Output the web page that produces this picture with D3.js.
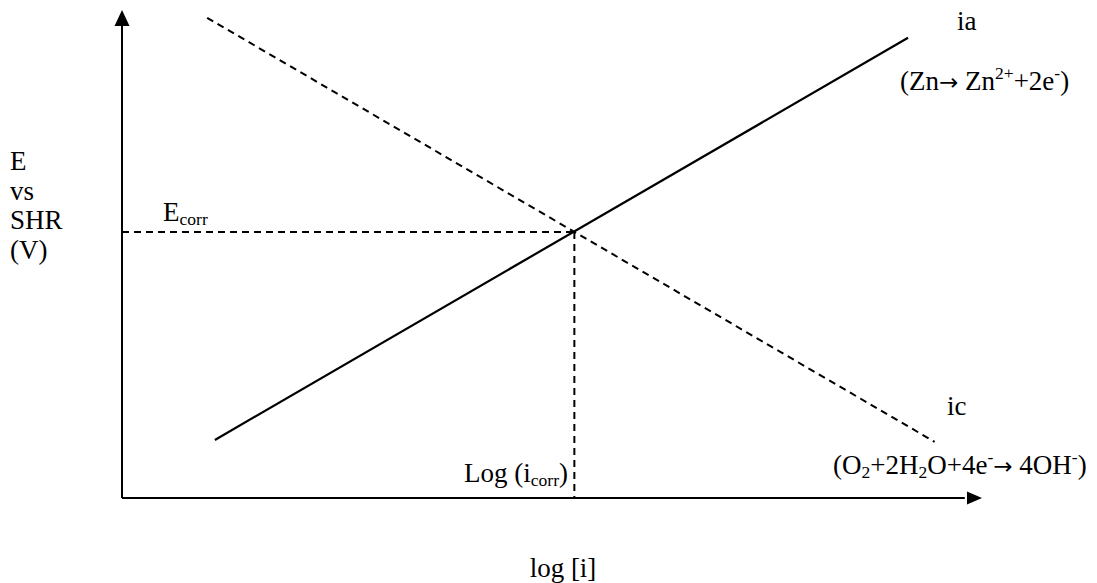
<!DOCTYPE html>
<html><head><meta charset="utf-8">
<script src="https://cdn.jsdelivr.net/npm/d3@7"></script>
<style>body{margin:0;background:#fff}svg{display:block}text{font-family:"Liberation Serif","Times New Roman",serif;fill:#000}</style>
</head><body><svg id="c" width="1097" height="583"></svg>
<script>
// Schematic data (arbitrary units: log i on x, E on y)
const anodicLogI = [10.8, 91.4];
const anodicE = [11.9, 94.3];
const cathodicLogI = [9.9, 94.5];
const cathodicE = [98.4, 11.5];
const logIcorr = 52.6;
const Ecorr = 54.5;

const svg = d3.select("#c");
const x = d3.scaleLinear().domain([0, 100]).range([122, 982]);
const y = d3.scaleLinear().domain([0, 100]).range([498, 10]);

const line = d3.line().x(d => x(d[0])).y(d => y(d[1]));

// axes
svg.append("line").attr("x1", x(0)).attr("y1", y(0)).attr("x2", x(0)).attr("y2", y(97))
  .attr("stroke", "#000").attr("stroke-width", 2);
svg.append("line").attr("x1", x(0)).attr("y1", y(0)).attr("x2", x(98)).attr("y2", y(0))
  .attr("stroke", "#000").attr("stroke-width", 2);
svg.append("path").attr("d", `M${x(0)},${y(100)} L${x(0)-7.5},${y(100)+16} L${x(0)+7.5},${y(100)+16} Z`).attr("fill", "#000");
svg.append("path").attr("d", `M${x(100)},${y(0)} L${x(100)-15},${y(0)-6.5} L${x(100)-15},${y(0)+6.5} Z`).attr("fill", "#000");

// anodic (solid)
svg.append("path").datum(anodicLogI.map((v, i) => [v, anodicE[i]]))
  .attr("d", line).attr("fill", "none").attr("stroke", "#000").attr("stroke-width", 2.2);
// cathodic (dashed)
svg.append("path").datum(cathodicLogI.map((v, i) => [v, cathodicE[i]]))
  .attr("d", line).attr("fill", "none").attr("stroke", "#000").attr("stroke-width", 2).attr("stroke-dasharray", "7,5");
// Ecorr / icorr guides
svg.append("path").datum([[0, Ecorr], [logIcorr, Ecorr]])
  .attr("d", line).attr("fill", "none").attr("stroke", "#000").attr("stroke-width", 2).attr("stroke-dasharray", "7,5");
svg.append("path").datum([[logIcorr, Ecorr], [logIcorr, 0]])
  .attr("d", line).attr("fill", "none").attr("stroke", "#000").attr("stroke-width", 2).attr("stroke-dasharray", "7,5");

const fs = 27;
function txt(xp, yp, parts, anchor) {
  const t = svg.append("text").attr("x", xp).attr("y", yp).attr("font-size", fs).attr("text-anchor", anchor || "start");
  parts.forEach(p => {
    const s = t.append("tspan").text(p[0]);
    if (p[1] === "sub") s.attr("font-size", fs * 0.65).attr("dy", 4);
    if (p[1] === "sup") s.attr("font-size", fs * 0.65).attr("dy", -11);
    if (p[1] === "arr") s.attr("font-family", "DejaVu Sans").attr("font-size", fs * 0.85);
    if (p[2] !== undefined) s.attr("dy", p[2]);
  });
  return t;
}
// y-axis label
["E", "vs", "SHR", "(V)"].forEach((s, i) => txt(10, 170 + i * 29.5, [[s]]));
// Ecorr
txt(163, 221, [["E"], ["corr", "sub"]]);
// Log(icorr)
txt(464, 482, [["Log (i"], ["corr", "sub"], [")", null, -4]]);
// x label
txt(563, 577, [["log [i]"]], "middle");
// ia
txt(957, 30, [["ia"]]);
txt(900, 90, [["(Zn"], ["\u2192", "arr"], [" Zn"], ["2+", "sup"], ["+2e", null, 11], ["-", "sup"], [")", null, 11]]);
// ic
txt(947, 415, [["ic"]]);
txt(833, 474, [["(O"], ["2", "sub"], ["+2H", null, -4], ["2", "sub"], ["O+4e", null, -4], ["-", "sup"], ["\u2192", "arr", 11], [" 4OH"], ["-", "sup"], [")", null, 11]]);
</script></body></html>
